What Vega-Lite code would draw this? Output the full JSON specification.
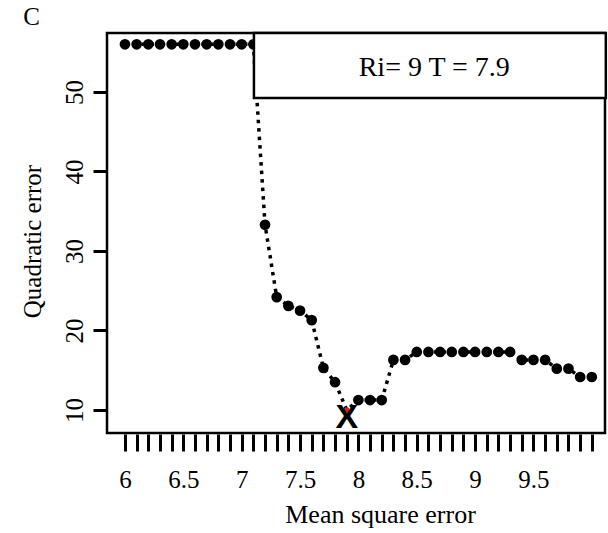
{
  "$schema": "https://vega.github.io/schema/vega-lite/v6.json",
  "width": 498,
  "height": 400,
  "autosize": "none",
  "padding": {"left": 107, "top": 33, "right": 3, "bottom": 100},
  "background": "white",
  "config": {
    "view": {"stroke": "black", "strokeWidth": 2.5},
    "font": "Liberation Serif",
    "axis": {"grid": false, "labelFont": "Liberation Serif", "titleFont": "Liberation Serif", "labelColor": "black", "titleColor": "black", "titleFontWeight": "normal", "tickColor": "black", "labelOverlap": false}
  },
  "datasets": {
    "series": [
      {"x": 6.0, "y": 56, "best": false},
      {"x": 6.1, "y": 56, "best": false},
      {"x": 6.2, "y": 56, "best": false},
      {"x": 6.3, "y": 56, "best": false},
      {"x": 6.4, "y": 56, "best": false},
      {"x": 6.5, "y": 56, "best": false},
      {"x": 6.6, "y": 56, "best": false},
      {"x": 6.7, "y": 56, "best": false},
      {"x": 6.8, "y": 56, "best": false},
      {"x": 6.9, "y": 56, "best": false},
      {"x": 7.0, "y": 56, "best": false},
      {"x": 7.1, "y": 56, "best": false},
      {"x": 7.2, "y": 33.3, "best": false},
      {"x": 7.3, "y": 24.2, "best": false},
      {"x": 7.4, "y": 23.1, "best": false},
      {"x": 7.5, "y": 22.5, "best": false},
      {"x": 7.6, "y": 21.3, "best": false},
      {"x": 7.7, "y": 15.3, "best": false},
      {"x": 7.8, "y": 13.5, "best": false},
      {"x": 7.9, "y": 10.0, "best": true},
      {"x": 8.0, "y": 11.25, "best": false},
      {"x": 8.1, "y": 11.25, "best": false},
      {"x": 8.2, "y": 11.25, "best": false},
      {"x": 8.3, "y": 16.3, "best": false},
      {"x": 8.4, "y": 16.3, "best": false},
      {"x": 8.5, "y": 17.3, "best": false},
      {"x": 8.6, "y": 17.3, "best": false},
      {"x": 8.7, "y": 17.3, "best": false},
      {"x": 8.8, "y": 17.3, "best": false},
      {"x": 8.9, "y": 17.3, "best": false},
      {"x": 9.0, "y": 17.3, "best": false},
      {"x": 9.1, "y": 17.3, "best": false},
      {"x": 9.2, "y": 17.3, "best": false},
      {"x": 9.3, "y": 17.3, "best": false},
      {"x": 9.4, "y": 16.3, "best": false},
      {"x": 9.5, "y": 16.3, "best": false},
      {"x": 9.6, "y": 16.3, "best": false},
      {"x": 9.7, "y": 15.2, "best": false},
      {"x": 9.8, "y": 15.2, "best": false},
      {"x": 9.9, "y": 14.15, "best": false},
      {"x": 10.0, "y": 14.15, "best": false}
    ],
    "box": [{"x1": 7.105, "x2": 10.12, "y1": 49.25, "y2": 57.42, "label": "Ri= 9 T = 7.9", "tx": 8.65, "ty": 53.0}],
    "marker": [{"x": 7.9, "y": 9.0, "symbol": "X"}],
    "panel": [{"x": 5.2, "y": 59.4, "label": "C"}]
  },
  "layer": [
    {
      "data": {"name": "series"},
      "mark": {"type": "line", "color": "black", "strokeWidth": 3.5, "strokeDash": [3.5, 5], "strokeCap": "butt"},
      "encoding": {
        "x": {
          "field": "x", "type": "quantitative",
          "scale": {"domain": [5.846, 10.113], "nice": false, "zero": false},
          "axis": {
            "title": "Mean square error",
            "titleFontSize": 26,
            "titleX": 273, "titleY": 80, "titleBaseline": "middle", "titleAnchor": "middle", "titleAlign": "center",
            "values": [6, 6.1, 6.2, 6.3, 6.4, 6.5, 6.6, 6.7, 6.8, 6.9, 7, 7.1, 7.2, 7.3, 7.4, 7.5, 7.6, 7.7, 7.8, 7.9, 8, 8.1, 8.2, 8.3, 8.4, 8.5, 8.6, 8.7, 8.8, 8.9, 9, 9.1, 9.2, 9.3, 9.4, 9.5, 9.6, 9.7, 9.8, 9.9, 10],
            "tickCount": 200,
            "format": "~g",
            "labelExpr": "indexof(['6','6.5','7','7.5','8','8.5','9','9.5'], datum.label) >= 0 ? datum.label : ''",
            "labelFontSize": 25,
            "labelPadding": 16,
            "tickSize": 17,
            "tickWidth": 3,
            "domain": false,
            "offset": 1
          }
        },
        "y": {
          "field": "y", "type": "quantitative",
          "scale": {"domain": [7.107, 57.42], "nice": false, "zero": false},
          "axis": {
            "title": "Quadratic error",
            "titleFontSize": 25,
            "titleX": -75, "titleY": 208, "titleAngle": -90, "titleAlign": "center", "titleBaseline": "middle",
            "values": [10, 20, 30, 40, 50],
            "tickCount": 50,
            "labelAngle": -90, "labelAlign": "center", "labelBaseline": "bottom",
            "labelFontSize": 25,
            "labelPadding": 6,
            "tickSize": 14,
            "tickWidth": 3,
            "domain": false
          }
        }
      }
    },
    {
      "data": {"name": "series"},
      "transform": [{"filter": "!datum.best"}],
      "mark": {"type": "point", "shape": "circle", "filled": true, "color": "black", "size": 115, "opacity": 1},
      "encoding": {
        "x": {"field": "x", "type": "quantitative"},
        "y": {"field": "y", "type": "quantitative"}
      }
    },
    {
      "data": {"name": "box"},
      "mark": {"type": "rect", "fill": "white", "stroke": "black", "strokeWidth": 2.5},
      "encoding": {
        "x": {"field": "x1", "type": "quantitative"},
        "x2": {"field": "x2"},
        "y": {"field": "y1", "type": "quantitative"},
        "y2": {"field": "y2"}
      }
    },
    {
      "data": {"name": "box"},
      "mark": {"type": "text", "font": "Liberation Serif", "fontSize": 28, "color": "black", "align": "center", "baseline": "middle"},
      "encoding": {
        "x": {"field": "tx", "type": "quantitative"},
        "y": {"field": "ty", "type": "quantitative"},
        "text": {"field": "label"}
      }
    },
    {
      "data": {"name": "series"},
      "transform": [{"filter": "datum.best"}],
      "mark": {"type": "point", "shape": "circle", "filled": true, "color": "#d0202a", "size": 30, "opacity": 1},
      "encoding": {
        "x": {"field": "x", "type": "quantitative"},
        "y": {"field": "y", "type": "quantitative"}
      }
    },
    {
      "data": {"name": "marker"},
      "mark": {"type": "text", "font": "Liberation Sans", "fontWeight": "bold", "fontSize": 34, "color": "black", "align": "center", "baseline": "middle"},
      "encoding": {
        "x": {"field": "x", "type": "quantitative"},
        "y": {"field": "y", "type": "quantitative"},
        "text": {"field": "symbol"}
      }
    },
    {
      "data": {"name": "panel"},
      "mark": {"type": "text", "font": "Liberation Serif", "fontSize": 25, "color": "black", "align": "center", "baseline": "middle"},
      "encoding": {
        "x": {"field": "x", "type": "quantitative"},
        "y": {"field": "y", "type": "quantitative"},
        "text": {"field": "label"}
      }
    }
  ]
}
